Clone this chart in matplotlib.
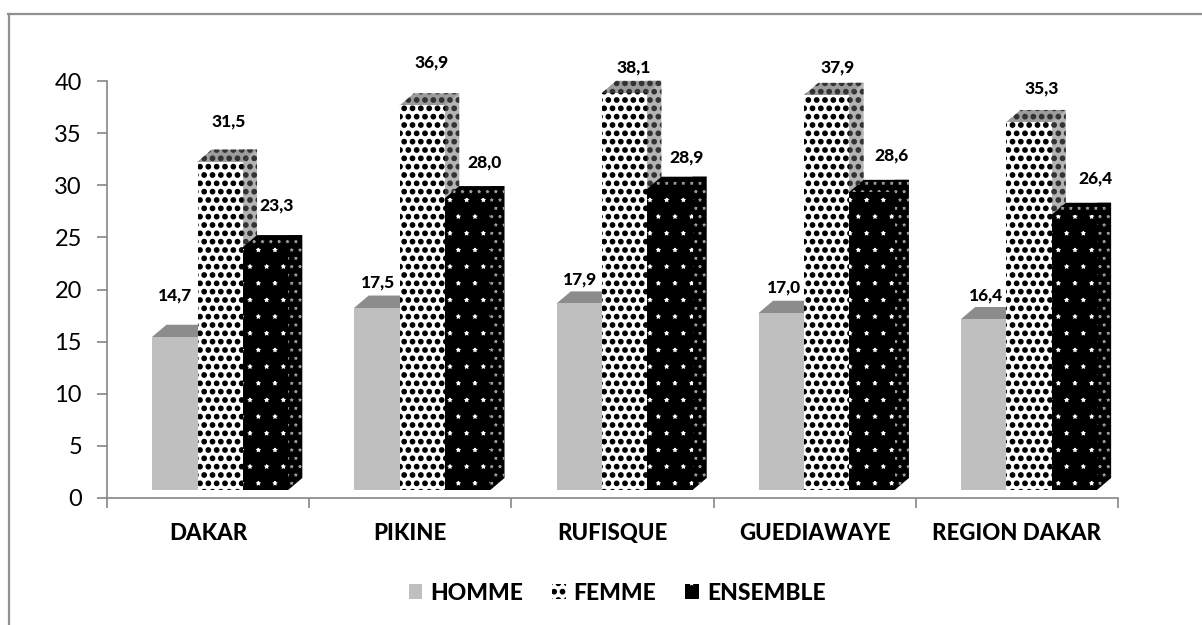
import numpy as np
import matplotlib
matplotlib.use('Agg')
import matplotlib.pyplot as plt
import matplotlib.hatch as mhatch
from matplotlib.lines import Line2D
from matplotlib.patches import Patch, Polygon

categories = ['DAKAR', 'PIKINE', 'RUFISQUE', 'GUEDIAWAYE', 'REGION DAKAR']
homme = [14.7, 17.5, 17.9, 17.0, 16.4]
femme = [31.5, 36.9, 38.1, 37.9, 35.3]
ensemble = [23.3, 28.0, 28.9, 28.6, 26.4]
series_names = ['HOMME', 'FEMME', 'ENSEMBLE']
yticks = [0, 5, 10, 15, 20, 25, 30, 35, 40]

# label offsets in pixels from the top of each bar front, placed by hand
label_dx = [[0, 1, 1, 2, 2], [8, 9, 9, 11, 13], [11, 17, 17, 19, 21]]
label_dy = [41, 25, 24, 25, 24], [40, 43, 25, 27, 33], [42, 36, 31, 36, 36]

plt.rcParams['font.family'] = ['Lato', 'DejaVu Sans']

# hatch dot sizes: bigger black dots, tiny white specks
mhatch.SmallFilledCircles.size = 0.26
mhatch.Stars.size = 0.08

W, H = 1202, 625
BASE = 0.77     # bars float a little above the axis
DX = 0.07
DY = 1.15
BAR_W = 0.224
SHIFT = 0.06
OVERLAP = 0.004
AXIS_GRAY = '#868686'
BOLD = 900

# front, side, top styles per series
styles = [
    dict(front=('#bfbfbf', None, None), side=('#a8a8a8', None, None), top=('#8c8c8c', None, None)),
    dict(front=('white', 'black', '..'), side=('#b4b4b4', '#333333', '..'), top=('#9c9c9c', '#333333', '..')),
    dict(front=('black', 'white', '*'), side=('black', '#9a9a9a', '**'), top=('black', '#9a9a9a', '**')),
]


def face(ax, pts, style, zorder):
    fc, hc, hatch = style
    poly = Polygon(pts, closed=True, facecolor=fc, edgecolor=hc if hc else fc,
                   hatch=hatch, linewidth=0, zorder=zorder, clip_on=False)
    ax.add_patch(poly)


def draw_series(ax, xs, values, style, zorder):
    for x, v in zip(xs, values):
        l, r = x - BAR_W / 2, x + BAR_W / 2
        b, t = BASE, BASE + v
        # side and top run under their neighbours so no seam shows
        face(ax, [(r - OVERLAP, b), (r, b), (r + DX, b + DY), (r + DX, t + DY), (r, t + DY), (r - OVERLAP, t)],
             style['side'], zorder)
        face(ax, [(l, t - 0.1), (r, t - 0.1), (r, t), (r + DX, t + DY), (l + DX, t + DY), (l, t)],
             style['top'], zorder)
    fc, hc, hatch = style['front']
    ax.bar(xs, values, BAR_W, bottom=BASE, color=fc, edgecolor=hc if hc else fc,
           hatch=hatch, linewidth=0, zorder=zorder)


fig = plt.figure(figsize=(W / 100, H / 100), dpi=100)
ax = fig.add_axes([107 / W, (H - 498) / H, (1118 - 107) / W, (498 - 81) / H])

x = np.arange(len(categories))
all_values = [homme, femme, ensemble]
for i, (values, style) in enumerate(zip(all_values, styles)):
    xs = x + SHIFT + (i - 1) * BAR_W
    draw_series(ax, xs, values, style, 3 + i)
    for j, v in enumerate(values):
        ax.annotate(f'{v:.1f}'.replace('.', ','), (xs[j], BASE + v),
                    xytext=(label_dx[i][j] * 0.72, label_dy[i][j] * 0.72),
                    textcoords='offset points', ha='center', va='center',
                    fontsize=12.5, fontweight=BOLD, color='black', zorder=10)

ax.set_xlim(-0.5, len(categories) - 0.5)
ax.set_ylim(0, 40)
ax.set_yticks(yticks)
ax.tick_params(axis='y', labelsize=17, length=7, width=1.2, color=AXIS_GRAY, pad=11)
ax.set_xticks(np.arange(len(categories) + 1) - 0.5)
ax.set_xticklabels([])
ax.tick_params(axis='x', which='major', length=7, width=1.2, color=AXIS_GRAY)
ax.set_xticks(x, minor=True)
ax.set_xticklabels(categories, minor=True, fontsize=16, fontweight=BOLD)
ax.tick_params(axis='x', which='minor', length=0, pad=18)
for side in ['top', 'right']:
    ax.spines[side].set_visible(False)
for side in ['left', 'bottom']:
    ax.spines[side].set_color(AXIS_GRAY)
    ax.spines[side].set_linewidth(1.2)

handles = [
    Patch(facecolor=s['front'][0], edgecolor=s['front'][1] or s['front'][0],
          hatch=s['front'][2], linewidth=0)
    for s in styles
]
fig.legend(handles, series_names, loc='center', bbox_to_anchor=(617 / W, (H - 593) / H),
           ncol=3, frameon=False, handlelength=0.6, handleheight=0.6,
           handletextpad=0.35, columnspacing=1.25, prop=dict(size=16.5, weight=BOLD))

# chart border: only the top and left edges are inside the picture
fig.add_artist(Line2D([8 / W, 1], [(H - 14) / H, (H - 14) / H], transform=fig.transFigure,
                      color='#909090', linewidth=1.6))
fig.add_artist(Line2D([9 / W, 9 / W], [0, (H - 14) / H], transform=fig.transFigure,
                      color='#909090', linewidth=1.6))

fig.savefig('out.png', dpi=100)
